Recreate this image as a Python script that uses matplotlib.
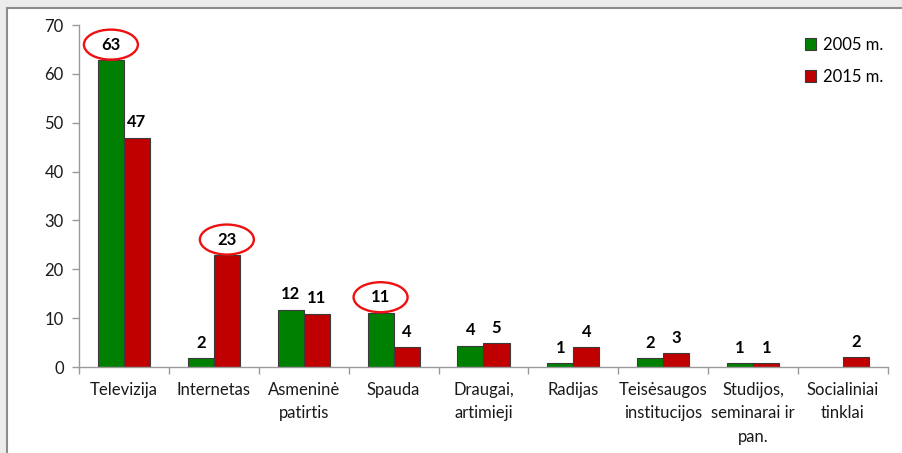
import matplotlib.pyplot as plt
from matplotlib.patches import Rectangle, Ellipse
from matplotlib.transforms import ScaledTranslation
import numpy as np

categories = ["Televizija", "Internetas", "Asmeninė\npatirtis", "Spauda",
              "Draugai,\nartimieji", "Radijas", "Teisėsaugos\ninstitucijos",
              "Studijos,\nseminarai ir\npan.", "Socialiniai\ntinklai"]
values_2005 = [62.8, 1.8, 11.7, 11.1, 4.3, 0.8, 1.8, 0.8, np.nan]
values_2015 = [46.9, 22.9, 10.9, 4.0, 4.9, 4.0, 2.8, 0.8, 2.0]
# labels circled in red: (series, category index)
highlighted = [("2005", 0), ("2015", 1), ("2005", 3)]

plt.rcParams['font.family'] = ['Lato', 'DejaVu Sans']

W, H = 902, 453
fig = plt.figure(figsize=(W / 100, H / 100), dpi=100, facecolor="#ececec")

# white frame around the chart
fig.patches.append(Rectangle((7 / W, -0.05), 1.1, 1.05 - 8 / H, transform=fig.transFigure,
                             facecolor="white", edgecolor="#8c8c8c", lw=1.5, zorder=-1))

ax = fig.add_axes([79 / W, (H - 367) / H, 809 / W, 342 / H])
ax.set_facecolor("none")

x = np.arange(len(categories))
bw = 0.29
ax.bar(x - bw / 2, values_2005, bw, color="#008000", edgecolor="#3a3a3a", lw=0.8, label="2005 m.")
ax.bar(x + bw / 2, values_2015, bw, color="#c00000", edgecolor="#3a3a3a", lw=0.8, label="2015 m.")

# value labels
off = 11.2
for xs, vals in ((x - bw / 2, values_2005), (x + bw / 2, values_2015)):
    for xi, v in zip(xs, vals):
        if np.isnan(v):
            continue
        ax.annotate(f"{v:.0f}", (xi, v), xytext=(0, off), textcoords="offset points",
                    ha="center", va="center", fontsize=12, fontweight="bold", color="black")

# red ellipses around highlighted labels
for series, i in highlighted:
    xi = x[i] - bw / 2 if series == "2005" else x[i] + bw / 2
    v = values_2005[i] if series == "2005" else values_2015[i]
    tr = fig.dpi_scale_trans + ScaledTranslation(xi, v, ax.transData)
    ax.add_patch(Ellipse((0, off / 72), 0.54, 0.30, transform=tr, fill=False,
                         edgecolor="#ee1111", lw=1.7, clip_on=False, zorder=5))

ax.set_xlim(-0.5, len(categories) - 0.5)
ax.set_ylim(0, 70)
ax.set_yticks(range(0, 71, 10))
ax.set_xticks(x)
ax.set_xticklabels(categories, fontsize=12, color="#1a1a1a", linespacing=1.6)
ax.set_xticks(np.arange(-0.5, len(categories), 1), minor=True)
ax.tick_params(axis="x", which="major", length=0, pad=10.5)
ax.tick_params(axis="x", which="minor", length=5, color="#9a9a9a", width=1)
ax.tick_params(axis="y", length=5, color="#9a9a9a", width=1, labelsize=12,
               labelcolor="#1a1a1a", pad=6)

for s in ("top", "right"):
    ax.spines[s].set_visible(False)
for s in ("left", "bottom"):
    ax.spines[s].set_color("#9a9a9a")
    ax.spines[s].set_linewidth(1)

ax.legend(loc="upper left", bbox_to_anchor=((798 - 79) / 809, (367 - 30) / 342), frameon=False,
          fontsize=12, handlelength=0.7, handleheight=0.7, handletextpad=0.4,
          labelspacing=0.95, borderaxespad=0)

fig.savefig("out.png", dpi=100, facecolor=fig.get_facecolor())
